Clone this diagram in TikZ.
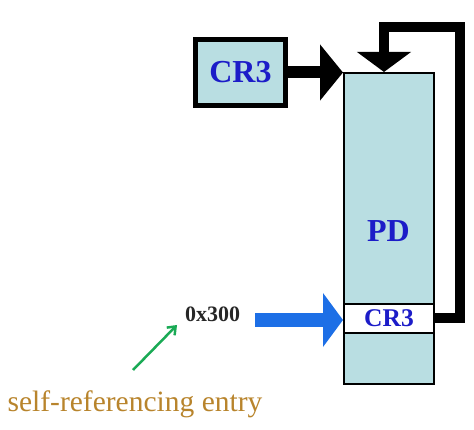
\documentclass[tikz,border=0pt]{standalone}
\usepackage{fontspec}
\setmainfont{Liberation Serif}
\usetikzlibrary{arrows.meta}
\definecolor{boxcyan}{HTML}{B9DEE2}
\definecolor{txtblue}{HTML}{1C1CC8}
\definecolor{arrblue}{HTML}{1D6FE6}
\definecolor{grn}{HTML}{1AAA55}
\definecolor{brn}{HTML}{B8842C}
\begin{document}
\begin{tikzpicture}[x=1pt,y=-1pt,
  boxstyle/.style={draw=black, fill=boxcyan, rectangle, inner sep=0pt},
  bluebold/.style={text=txtblue, font=\bfseries\fontsize{#1}{#1}\selectfont},
  bigarrow/.style={line width=12pt, -{Triangle[length=23pt,width=55pt]}},
  looparrow/.style={line width=10pt, line join=miter, -{Triangle[length=20pt,width=53pt]}},
  bluearrow/.style={draw=arrblue, line width=14pt, -{Triangle[length=20pt,width=53pt]}},
  grnarrow/.style={draw=grn, line width=2.5pt, -{Straight Barb[length=7pt,width=11pt]}}]
\useasboundingbox (0,0) rectangle (474,430);
% PD table
\node[boxstyle, line width=2pt, minimum width=90pt, minimum height=311pt] (pd) at (389,228.5) {};
\node[draw=black, fill=white, line width=2pt, minimum width=90pt, minimum height=29pt, inner sep=0pt,
      bluebold=25.5] (entry) at (389,318.5) {CR3};
\node[bluebold=32] (pdlabel) at (388.5,231) {PD};
% CR3 register
\node[boxstyle, line width=5pt, minimum width=90pt, minimum height=66pt, bluebold=32] (cr3) at (240.5,72.5) {CR3};
\draw[bigarrow] (cr3.east) -- (pd.west |- cr3.east);
% self loop
\coordinate (loopR) at (459.5,27);
\coordinate (pdin) at (384,72);
\draw[looparrow] (entry.east) -| (loopR) -| (pdin);
% 0x300 and blue arrow
\node[font=\bfseries\fontsize{22}{22}\selectfont, text=black!85] (ox) at (212.5,314) {0x300};
\coordinate (bstart) at (255,320);
\coordinate (bend) at (343,320);
\draw[bluearrow] (bstart) -- (bend);
% annotation
\node[text=brn, font=\fontsize{29.5}{29.5}\selectfont] (selfref) at (135,404) {self-referencing entry};
\coordinate (gtail) at (133,370);
\coordinate (ghead) at (177,325);
\draw[grnarrow] (gtail) -- (ghead);
\end{tikzpicture}
\end{document}
